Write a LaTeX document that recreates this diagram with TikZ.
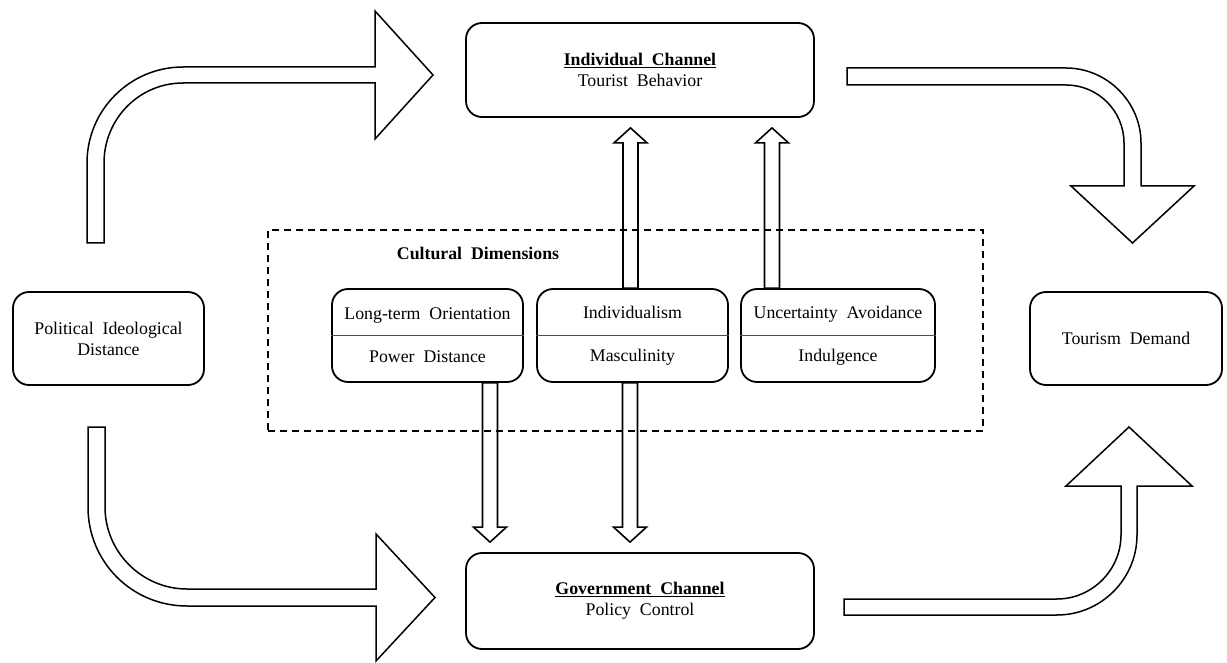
\documentclass[tikz,border=0pt]{standalone}
\usepackage{fontspec}
\setmainfont{Liberation Serif}[WordSpace=2]
\usetikzlibrary{calc}
\newcommand\hollowUp[2]{\draw[hollow] let \p1=(#1), \p2=(#2) in
  (\x1-7.5pt,\y1) -- (\x1-7.5pt,\y2-25pt) -- (\x1-16.5pt,\y2-25pt) -- (\x1,\y2-10pt)
  -- (\x1+16.5pt,\y2-25pt) -- (\x1+7.5pt,\y2-25pt) -- (\x1+7.5pt,\y1) -- cycle;}
\newcommand\hollowDown[2]{\draw[hollow] let \p1=(#1), \p2=(#2) in
  (\x1-7.5pt,\y1) -- (\x1-7.5pt,\y2+25pt) -- (\x1-16.5pt,\y2+25pt) -- (\x1,\y2+10pt)
  -- (\x1+16.5pt,\y2+25pt) -- (\x1+7.5pt,\y2+25pt) -- (\x1+7.5pt,\y1) -- cycle;}
\begin{document}
\begin{tikzpicture}[x=1pt,y=-1pt,
  box/.style={draw, line width=1.8pt, rounded corners=16pt, align=center, inner sep=0pt,
    font=\fontsize{17.8}{21}\selectfont},
  hollow/.style={draw, line width=1.6pt, line join=miter},
  bigarrow/.style={draw, line width=1.5pt, fill=white, line join=miter},
  dim/.style={draw, dash pattern=on 7pt off 5pt, line width=1.6pt, inner sep=0pt},
  divider/.style={draw, line width=0.8pt, black!70}]
\useasboundingbox (0,0) rectangle (1227,663);

% main nodes
\node[box, minimum width=191pt, minimum height=93pt] (pid) at (108.5,338.5) {Political Ideological\\Distance};
\node[box, minimum width=192pt, minimum height=93pt] (td) at (1126,338.5) {Tourism Demand};
\node[box, minimum width=348pt, minimum height=94pt] (ic) at (640,70) {\textbf{\underline{Individual Channel}}\\Tourist Behavior};
\node[box, minimum width=348pt, minimum height=96pt] (gc) at (640,601) {\textbf{\underline{Government Channel}}\\Policy Control};

% cultural dimension boxes
\node[box, minimum width=191pt, minimum height=93pt] (b1) at (427.5,335.5) {Long-term Orientation\\[22pt]Power Distance};
\node[box, minimum width=191pt, minimum height=93pt] (b2) at (632.5,335.5) {Individualism\\[22pt]Masculinity};
\node[box, minimum width=194pt, minimum height=93pt] (b3) at (838,335.5) {Uncertainty Avoidance\\[22pt]Indulgence};
\draw[divider] (b1.west) -- (b1.east);
\draw[divider] (b2.west) -- (b2.east);
\draw[divider] (b3.west) -- (b3.east);

% small hollow arrows
\hollowUp{$(b2.north)+(-2,0)$}{ic.south}
\hollowUp{$(b3.north)+(-66,0)$}{ic.south}
\hollowDown{$(b1.south)+(62.5,0)$}{gc.north}
\hollowDown{$(b2.south)+(-2.5,0)$}{gc.north}

% dashed frame
\node[dim, minimum width=715pt, minimum height=201pt] (cdbox) at (625.5,330.5) {};
\node[font=\fontsize{17.8}{21}\selectfont\bfseries] (cdt) at (478,253) {Cultural Dimensions};

% big curved arrows
\path[bigarrow] (87,243) -- (87,163) .. controls (87,110) and (130,67) .. (183,67)
  -- (375,67) -- (375,11) -- (433,75) -- (375,139) -- (375,83) -- (183,83)
  .. controls (139,83) and (104,119) .. (104,163) -- (104,243) -- cycle;
\path[bigarrow] (88,427) -- (88,507) .. controls (88,562) and (132,606) .. (187,606)
  -- (376,606) -- (376,661) -- (435,597.5) -- (376,534) -- (376,589) -- (187,589)
  .. controls (142,589) and (105,552) .. (105,507) -- (105,427) -- cycle;
\path[bigarrow] (847,68) -- (1066,68) .. controls (1107,68) and (1141,102) .. (1141,143)
  -- (1141,186) -- (1194,186) -- (1132.5,243) -- (1071,186) -- (1124,186) -- (1124,143)
  .. controls (1124,111) and (1098,85) .. (1066,85) -- (847,85) -- cycle;
\path[bigarrow] (844,615) -- (1057,615) .. controls (1101,615) and (1137,579) .. (1137,535)
  -- (1137,486) -- (1192,486) -- (1129,427) -- (1066,486) -- (1121,486) -- (1121,535)
  .. controls (1121,570) and (1092,599) .. (1057,599) -- (844,599) -- cycle;
\end{tikzpicture}
\end{document}
